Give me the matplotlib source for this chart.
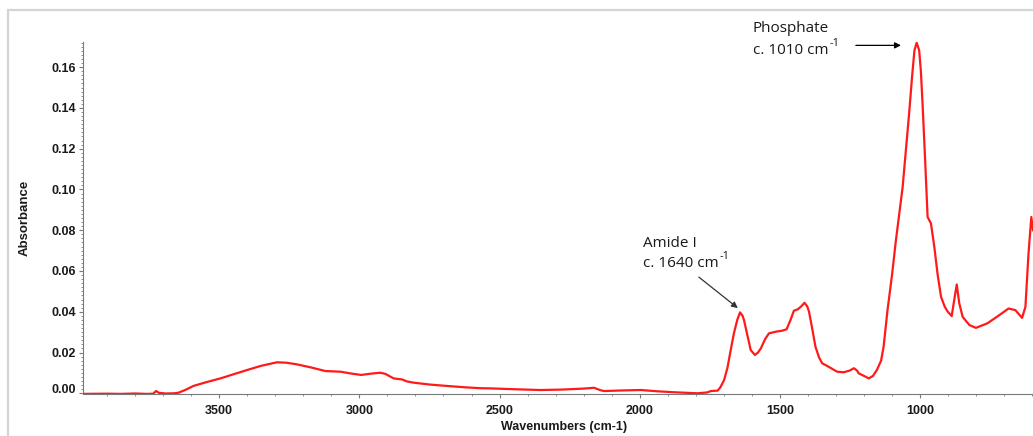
import matplotlib.pyplot as plt
from matplotlib.ticker import MultipleLocator, FixedLocator
from matplotlib.patches import Rectangle
import matplotlib.transforms as mtransforms

# spectrum (wavenumber, absorbance)
wavenumbers = [3986, 3900, 3850, 3800, 3760, 3736, 3725, 3715, 3690, 3660, 3645, 3620, 3592, 3550,
               3496, 3450, 3401, 3350, 3294, 3260, 3223, 3170, 3121, 3068, 3030, 2994, 2960, 2925,
               2907, 2878, 2848, 2830, 2806, 2750, 2688, 2620, 2569, 2532, 2450, 2354, 2280, 2200,
               2163, 2140, 2127, 2060, 1996, 1940, 1877, 1830, 1794, 1760, 1746, 1722, 1712, 1699,
               1687, 1675, 1664, 1652, 1642, 1633, 1628, 1615, 1604, 1589, 1578, 1568, 1553, 1539,
               1515, 1492, 1476, 1462, 1450, 1436, 1425, 1412, 1402, 1396, 1385, 1373, 1360, 1349,
               1331, 1310, 1296, 1272, 1250, 1236, 1225, 1219, 1201, 1183, 1168, 1154, 1139, 1130,
               1116, 1100, 1086, 1062, 1038, 1028, 1020, 1012, 1003, 997, 991, 982, 973, 961,
               949, 937, 925, 912, 901, 887, 880, 869, 860, 848, 824, 801, 760, 726,
               684, 660, 636, 624, 613, 603, 597]
absorbance = [-0.0003, -0.0002, -0.0003, -0.0001, -0.0003, -0.0002, 0.0011, 0.0002, -0.0001, 0.0000,
              0.0003, 0.0017, 0.0036, 0.0053, 0.0073, 0.0093, 0.0114, 0.0135, 0.0152, 0.0150,
              0.0142, 0.0126, 0.0109, 0.0106, 0.0097, 0.0090, 0.0096, 0.0101, 0.0095, 0.0073,
              0.0068, 0.0058, 0.0052, 0.0043, 0.0036, 0.0029, 0.0025, 0.0024, 0.0020, 0.0016,
              0.0018, 0.0023, 0.0027, 0.0015, 0.0011, 0.0014, 0.0016, 0.0010, 0.0005, 0.0002,
              0.0000, 0.0004, 0.0011, 0.0013, 0.0030, 0.0065, 0.0125, 0.0215, 0.0294, 0.0360,
              0.0397, 0.0380, 0.0359, 0.0280, 0.0212, 0.0188, 0.0200, 0.0220, 0.0265, 0.0294,
              0.0302, 0.0307, 0.0314, 0.0360, 0.0405, 0.0412, 0.0425, 0.0444, 0.0425, 0.0400,
              0.0320, 0.0228, 0.0175, 0.0147, 0.0134, 0.0117, 0.0106, 0.0103, 0.0112, 0.0123,
              0.0112, 0.0098, 0.0086, 0.0073, 0.0085, 0.0114, 0.0160, 0.0228, 0.0408, 0.0580,
              0.0751, 0.1012, 0.1388, 0.1560, 0.1682, 0.1720, 0.1682, 0.1580, 0.1421, 0.1150,
              0.0865, 0.0833, 0.0718, 0.0580, 0.0473, 0.0425, 0.0400, 0.0379, 0.0441, 0.0534,
              0.0441, 0.0375, 0.0335, 0.0321, 0.0343, 0.0375, 0.0416, 0.0408, 0.0370, 0.0424,
              0.0686, 0.0865, 0.0800]

x_ticks = [3500, 3000, 2500, 2000, 1500, 1000]
y_ticks = [0.00, 0.02, 0.04, 0.06, 0.08, 0.10, 0.12, 0.14, 0.16]

fig = plt.figure(figsize=(10.33, 4.36), dpi=100)
fig.patches.append(Rectangle((8 / 1033, -0.1), 1.2, (1 - 10 / 436) + 0.1, transform=fig.transFigure,
                             fill=False, edgecolor='#d4d4d4', linewidth=1.6))

ax = fig.add_axes([83 / 1033, (436 - 394.3) / 436, 1 - 83 / 1033, (394.3 - 41.7) / 436])

ax.plot(wavenumbers, absorbance, color='#ff1a1a', linewidth=1.6)

ax.set_xlim(3986, 597)
ax.set_ylim(-0.0005, 0.1725)

for s in ['top', 'right']:
    ax.spines[s].set_visible(False)
for s in ['left', 'bottom']:
    ax.spines[s].set_color('#7a7a7a')
    ax.spines[s].set_linewidth(0.8)

ax.xaxis.set_major_locator(FixedLocator(x_ticks))
ax.xaxis.set_minor_locator(MultipleLocator(100))
ax.yaxis.set_major_locator(FixedLocator(y_ticks))
ax.yaxis.set_minor_locator(MultipleLocator(0.002))
ax.set_yticklabels(['%.2f' % v for v in y_ticks])
ax.tick_params(which='major', length=3, width=0.8, color='#7a7a7a', labelsize=9, pad=5)
ax.tick_params(which='minor', length=1.5, width=0.6, color='#7a7a7a')
ax.tick_params(axis='y', which='major', pad=2)
for lab in ax.get_xticklabels() + ax.get_yticklabels():
    lab.set_fontfamily('Liberation Sans')
    lab.set_fontweight('bold')
    lab.set_color('#1a1a1a')

# the 0.00 label sits a little higher than its tick in the original
zero_lab = ax.get_yticklabels()[0]
zero_lab.set_transform(zero_lab.get_transform() + mtransforms.ScaledTranslation(0, 5 / 100, fig.dpi_scale_trans))

fig.text(25 / 1033, 1 - 218 / 436, 'Absorbance', rotation=90, ha='center', va='center',
         fontsize=9.5, fontweight='bold', family='Liberation Sans', color='#1a1a1a')
fig.text(564 / 1033, 1 - 427 / 436, 'Wavenumbers (cm-1)', ha='center', va='center',
         fontsize=9, fontweight='bold', family='Liberation Sans', color='#1a1a1a')

# annotations
note_font = dict(fontsize=11, family='Open Sans', color='#1a1a1a', ha='left', va='center')
sup_font = dict(fontsize=8, family='Open Sans', color='#1a1a1a', ha='left', va='center')

ax.text(1596, 0.1790, 'Phosphate', **note_font)
t1 = ax.text(1596, 0.1682, 'c. 1010 cm', **note_font)
ax.annotate('-1', xy=(1.0, 0.95), xycoords=t1, xytext=(1, 0), textcoords='offset points', **sup_font)
ax.annotate('', xy=(1068, 0.1707), xytext=(1229, 0.1707), annotation_clip=False,
            arrowprops=dict(arrowstyle='-|>', color='black', lw=0.9, mutation_scale=9,
                            shrinkA=0, shrinkB=0))

ax.text(1989, 0.0736, 'Amide I', **note_font)
t2 = ax.text(1989, 0.0638, 'c. 1640 cm', **note_font)
ax.annotate('-1', xy=(1.0, 0.95), xycoords=t2, xytext=(1, 0), textcoords='offset points', **sup_font)
ax.annotate('', xy=(1650, 0.0418), xytext=(1789, 0.0570),
            arrowprops=dict(arrowstyle='-|>', color='#333333', lw=0.9, mutation_scale=9,
                            shrinkA=0, shrinkB=0))

fig.savefig('out.png', dpi=100)
